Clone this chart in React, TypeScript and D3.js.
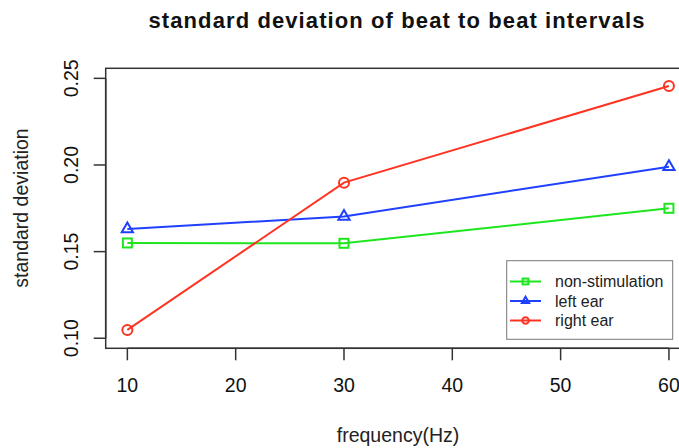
import React from "react";
import { scaleLinear, line } from "d3";

const frequencies = [10, 30, 60];
const nonStimulation = [0.155, 0.1548, 0.175];
const leftEar = [0.163, 0.1703, 0.199];
const rightEar = [0.1048, 0.1898, 0.2456];
const xTicks = [10, 20, 30, 40, 50, 60];
const yTicks = [0.1, 0.15, 0.2, 0.25];
const seriesNames = ["non-stimulation", "left ear", "right ear"];

const W = 679;
const H = 448;
const box = { left: 105.7, top: 68.3, right: 690.6, bottom: 348.3 };
const font = "'Liberation Sans', Arial, Helvetica, sans-serif";

const colors = ["#1ee61e", "#2040ff", "#ff3322"];

function Marker({ kind, x, y, color, s = 1 }) {
  if (kind === 0) {
    const h = 4.5 * s;
    return <rect x={x - h} y={y - h} width={2 * h} height={2 * h} fill="none" stroke={color} strokeWidth={2} />;
  }
  if (kind === 1) {
    const r = 6.5 * s;
    const pts = [
      [x, y - r],
      [x + r * 0.866, y + r * 0.5],
      [x - r * 0.866, y + r * 0.5],
    ];
    return <polygon points={pts.map((p) => p.join(",")).join(" ")} fill="none" stroke={color} strokeWidth={2} />;
  }
  return <circle cx={x} cy={y} r={5 * s} fill="none" stroke={color} strokeWidth={2} />;
}

export default function App() {
  const x = scaleLinear().domain([8, 62]).range([box.left, box.right]);
  const y = scaleLinear().domain([0.0942, 0.2558]).range([box.bottom, box.top]);
  const series = [nonStimulation, leftEar, rightEar];
  const path = line<number>()
    .x((_, i) => x(frequencies[i]))
    .y((d) => y(d));

  const legendX = 506.7;
  const legendY = 260.7;
  const rows = [281.5, 301, 320.5];

  return (
    <svg width={W} height={H} style={{ position: "absolute", left: 0, top: 0, background: "#fff" }} fontFamily={font}>
      <text x={397} y={28} textAnchor="middle" fontSize={22} letterSpacing={1.1} fontWeight="bold" fill="#111">
        standard deviation of beat to beat intervals
      </text>

      {series.map((vals, k) => (
        <g key={k}>
          <path d={path(vals) || ""} fill="none" stroke={colors[k]} strokeWidth={2} />
          {vals.map((v, i) => (
            <Marker key={i} kind={k} x={x(frequencies[i])} y={y(v)} color={colors[k]} />
          ))}
        </g>
      ))}

      <rect
        x={box.left}
        y={box.top}
        width={box.right - box.left}
        height={box.bottom - box.top}
        fill="none"
        stroke="#333"
        strokeWidth={1.5}
      />

      {/* x axis */}
      <line x1={x(10)} x2={x(60)} y1={box.bottom} y2={box.bottom} stroke="#333" strokeWidth={1.5} />
      {xTicks.map((t) => (
        <g key={t}>
          <line x1={x(t)} x2={x(t)} y1={box.bottom} y2={box.bottom + 12} stroke="#333" strokeWidth={1.5} />
          <text x={x(t)} y={392} textAnchor="middle" fontSize={19.5} fill="#111">
            {t}
          </text>
        </g>
      ))}
      <text x={398} y={442} textAnchor="middle" fontSize={19.5} fill="#222">
        frequency(Hz)
      </text>

      {/* y axis */}
      <line x1={box.left} x2={box.left} y1={y(0.1)} y2={y(0.25)} stroke="#333" strokeWidth={1.5} />
      {yTicks.map((t) => (
        <g key={t}>
          <line x1={box.left - 12} x2={box.left} y1={y(t)} y2={y(t)} stroke="#333" strokeWidth={1.5} />
          <text
            transform={`translate(78,${y(t)}) rotate(-90)`}
            textAnchor="middle"
            fontSize={19.5}
            fill="#111"
          >
            {t.toFixed(2)}
          </text>
        </g>
      ))}
      <text transform={`translate(28,208) rotate(-90)`} textAnchor="middle" fontSize={19.5} fill="#222">
        standard deviation
      </text>

      {/* legend */}
      <rect x={legendX} y={legendY} width={166} height={78.6} fill="#fff" stroke="#777" strokeWidth={1} />
      {seriesNames.map((name, k) => (
        <g key={name}>
          <line x1={510} x2={541} y1={rows[k]} y2={rows[k]} stroke={colors[k]} strokeWidth={2} />
          <Marker kind={k} x={525.5} y={rows[k]} color={colors[k]} s={0.65} />
          <text x={555} y={rows[k] + 5.5} fontSize={16} fill="#222">
            {name}
          </text>
        </g>
      ))}
    </svg>
  );
}
